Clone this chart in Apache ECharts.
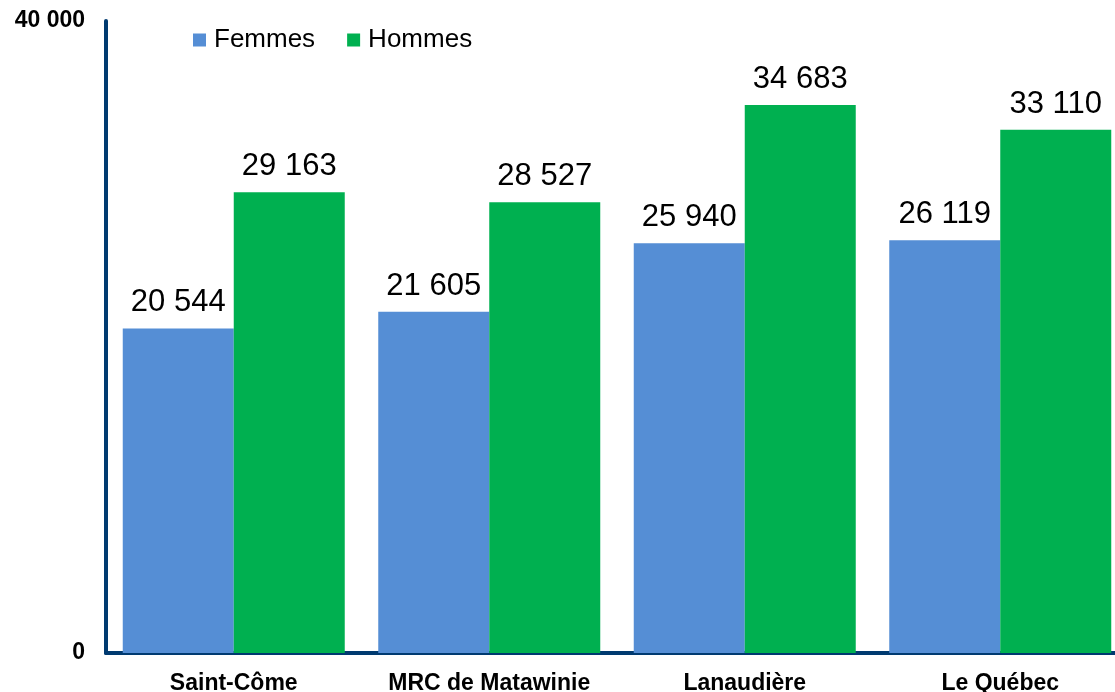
<!DOCTYPE html>
<html>
<head>
<meta charset="utf-8">
<script src="https://cdn.jsdelivr.net/npm/echarts@6/dist/echarts.min.js"></script>
<style>
  html, body { margin: 0; padding: 0; background: #fff; }
  #chart { width: 1115px; height: 692px; }
</style>
</head>
<body>
<div id="chart"></div>
<script>
const categories = ["Saint-Côme", "MRC de Matawinie", "Lanaudière", "Le Québec"];
const femmes = [20544, 21605, 25940, 26119];
const hommes = [29163, 28527, 34683, 33110];

function fmt(v) {
  return String(v).replace(/\B(?=(\d{3})+(?!\d))/g, " ");
}

const chart = echarts.init(document.getElementById("chart"));
const labelStyle = {
  show: true,
  position: "top",
  distance: 10,
  fontFamily: "Liberation Sans, Arial",
  fontSize: 31,
  color: "#000",
  formatter: p => fmt(p.value)
};

chart.setOption({
  animation: false,
  legend: {
    left: 188,
    top: 22,
    itemWidth: 13,
    itemHeight: 13,
    itemGap: 32,
    icon: "rect",
    textStyle: { fontFamily: "Liberation Sans, Arial", fontSize: 26, color: "#000", padding: [0, 0, 0, 3] },
    data: ["Femmes", "Hommes"]
  },
  grid: { left: 106, top: 21, bottom: 39, right: -13, outerBoundsMode: "none", containLabel: false },
  xAxis: {
    type: "category",
    data: categories,
    axisLine: { lineStyle: { color: "#003A70", width: 4 } },
    axisTick: { show: false },
    axisLabel: {
      interval: 0,
      fontFamily: "Liberation Sans, Arial",
      fontWeight: "bold",
      fontSize: 23,
      color: "#000",
      margin: 19
    }
  },
  yAxis: {
    type: "value",
    min: 0,
    max: 40000,
    interval: 40000,
    axisLine: { show: true, lineStyle: { color: "#003A70", width: 4 } },
    axisTick: { show: false },
    splitLine: { show: false },
    axisLabel: {
      fontFamily: "Liberation Sans, Arial",
      fontWeight: "bold",
      fontSize: 23,
      color: "#000",
      margin: 21,
      formatter: v => fmt(v)
    }
  },
  series: [
    {
      name: "Femmes",
      type: "bar",
      data: femmes,
      barWidth: 111,
      barGap: "0%",
      itemStyle: { color: "#558ED5" },
      label: labelStyle
    },
    {
      name: "Hommes",
      type: "bar",
      data: hommes,
      barWidth: 111,
      itemStyle: { color: "#00B050" },
      label: labelStyle
    }
  ]
});
</script>
</body>
</html>
